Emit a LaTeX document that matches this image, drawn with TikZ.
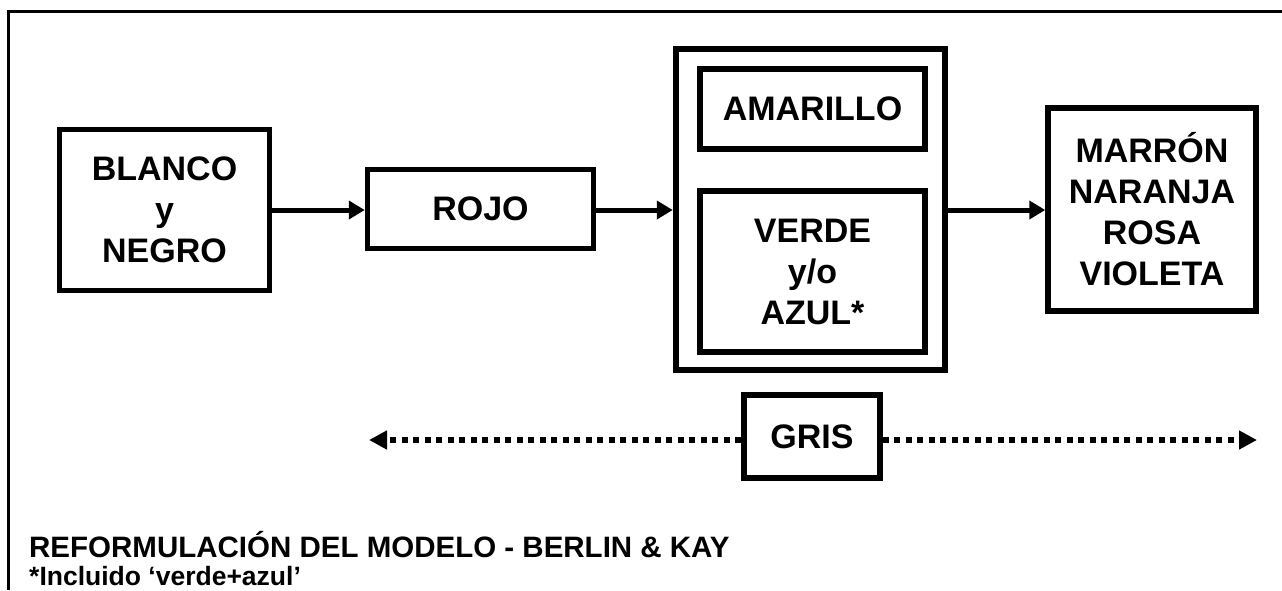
\documentclass[tikz,border=0pt]{standalone}
\usepackage{fontspec}
\setmainfont{Liberation Sans}
\usetikzlibrary{arrows.meta}
\begin{document}
\begin{tikzpicture}[x=1pt,y=-1pt,
  box/.style={draw,line width=5.5pt,inner sep=0pt,align=center,
    font=\bfseries\fontsize{34}{41}\selectfont},
  bigbox/.style={draw,line width=6.5pt,inner sep=0pt},
  conn/.style={line width=5pt,-{Triangle[length=16pt,width=18pt]}},
  dotconn/.style={line width=6pt,dash pattern=on 6pt off 5.5pt,-{Triangle[length=18pt,width=18pt]}},
  frameline/.style={line width=3pt}]
\useasboundingbox (0,0) rectangle (1282,590);
\draw[frameline] (8,590) -- (8,11) -- (1282,11);
\node[box,minimum width=210pt,minimum height=161pt] (bn) at (164.5,210) {BLANCO\\y\\NEGRO};
\node[box,minimum width=226pt,minimum height=79pt] (rojo) at (480.5,209) {ROJO};
\node[bigbox,minimum width=269pt,minimum height=321pt] (outer) at (810.5,209.5) {};
\node[box,minimum width=225pt,minimum height=80pt] (amar) at (812.5,109) {AMARILLO};
\node[box,minimum width=225pt,minimum height=161pt] (verde) at (812.5,271.5) {VERDE\\y/o\\AZUL*};
\node[box,minimum width=208pt,minimum height=203pt] (marron) at (1152,209.5) {MARRÓN\\NARANJA\\ROSA\\VIOLETA};
\node[box,minimum width=136pt,minimum height=83pt] (gris) at (812,436.5) {GRIS};
\coordinate (gl) at (369,440);
\coordinate (gr) at (1257,440);
\draw[conn] (bn.east |- 0,210) -- (rojo.west |- 0,210);
\draw[conn] (rojo.east |- 0,210) -- (outer.west |- 0,210);
\draw[conn] (outer.east |- 0,210) -- (marron.west |- 0,210);
\draw[dotconn] (gris.west |- gl) -- (gl);
\draw[dotconn] (gris.east |- gr) -- (gr);
\node[anchor=base west,inner sep=0pt,font=\bfseries\fontsize{29.5}{34}\selectfont] (t1) at (29,557) {REFORMULACIÓN DEL MODELO - BERLIN \& KAY};
\node[anchor=base west,inner sep=0pt,font=\bfseries\fontsize{26.5}{30}\selectfont] (t2) at (29,585) {*Incluido ‘verde+azul’};
\end{tikzpicture}
\end{document}
